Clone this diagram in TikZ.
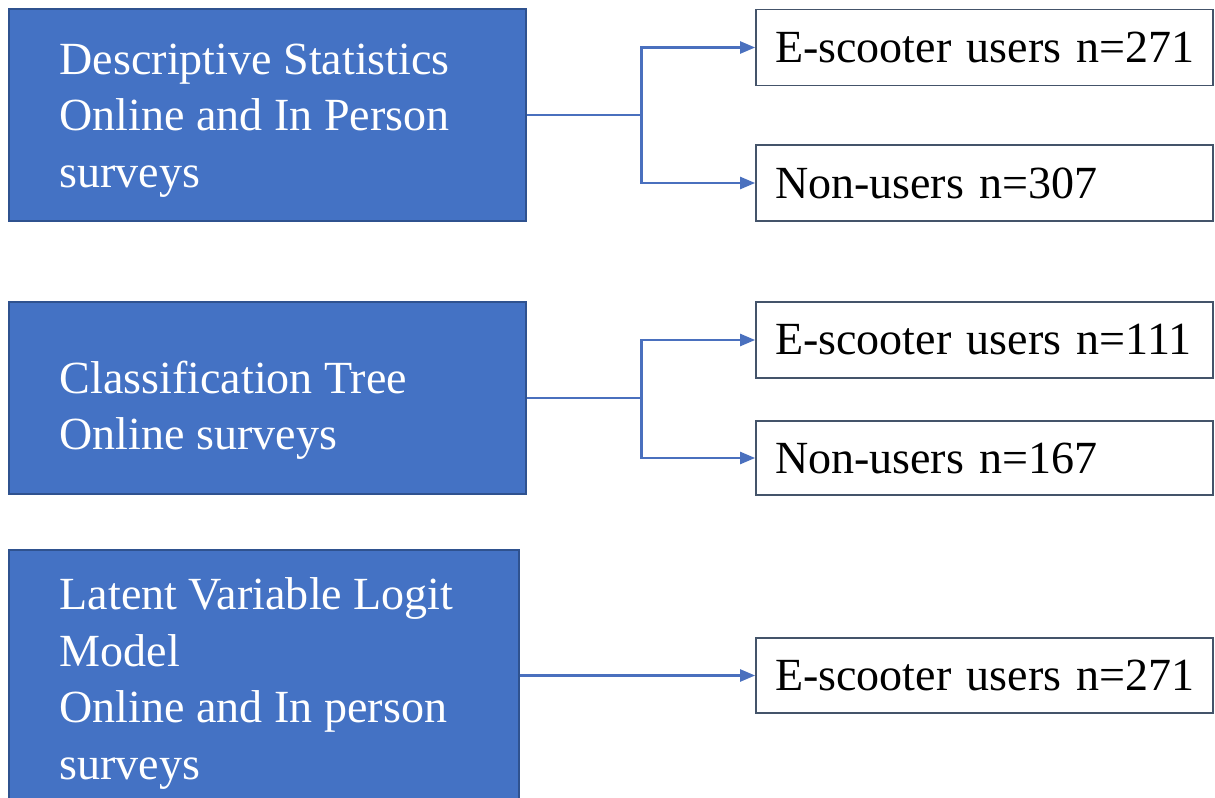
\documentclass[tikz,border=0pt]{standalone}
\usepackage{fontspec}
\setmainfont{Liberation Serif}
\usetikzlibrary{arrows.meta}

\definecolor{boxblue}{HTML}{4472C4}
\definecolor{boxedge}{HTML}{2F528F}
\definecolor{outedge}{HTML}{44546A}
\definecolor{linkblue}{HTML}{4A70BE}
\newcommand{\bigtext}{\fontsize{26.2}{32.2}\selectfont}

\tikzset{
  method/.style={draw=boxedge, line width=0.8pt, fill=boxblue, minimum width=10.34cm, inner sep=0pt},
  methodtext/.style={anchor=north west, inner sep=0pt, text=white, align=left, font=\bigtext},
  group/.style={draw=outedge, line width=1pt, fill=white, minimum width=9.14cm, minimum height=1.52cm,
    text width=8.38cm, inner xsep=0pt, inner ysep=0pt, align=left, font=\bigtext,
    execute at begin node=\hbox\bgroup, execute at end node=\egroup},
  link/.style={draw=linkblue, line width=1.4pt},
  arrowlink/.style={link, -{Triangle[length=0.3cm,width=0.24cm]}}
}

\begin{document}
\begin{tikzpicture}
    % Canvas
    \useasboundingbox (0,0) rectangle (24.3,-15.96);
    \clip (0,0) rectangle (24.3,-15.96);

    % Method boxes (left)
    \node[method, minimum height=4.24cm] (descr) at (5.35,-2.30) {};
    \node[method, minimum height=3.84cm] (ctree) at (5.35,-7.96) {};
    \node[method, minimum width=10.2cm, minimum height=5.16cm] (lvlogit) at (5.28,-13.58) {};

    % Method texts
    \node[methodtext] (descrtext) at ([shift={(1.02,-0.70)}]descr.north west)
      {Descriptive Statistics\\Online and In Person\\surveys};
    \node[methodtext] (ctreetext) at ([shift={(1.02,-1.18)}]ctree.north west)
      {Classification Tree\\Online surveys};
    \node[methodtext] (lvlogittext) at ([shift={(1.02,-0.56)}]lvlogit.north west)
      {Latent Variable Logit\\Model\\Online and In person\\surveys};

    % Sample boxes (right)
    \node[group] (descrusers) at (19.69,-0.95) {E-scooter users n=271};
    \node[group] (descrnon) at (19.69,-3.66) {Non-users n=307};
    \node[group] (ctreeusers) at (19.69,-6.80) {E-scooter users n=111};
    \node[group, minimum height=1.48cm] (ctreenon) at (19.69,-9.16) {Non-users n=167};
    \node[group, minimum height=1.50cm] (lvusers) at (19.69,-13.51) {E-scooter users n=271};

    % Branch points
    \coordinate (descrfork) at ([xshift=2.3cm]descr.east);
    \coordinate (ctreefork) at ([xshift=2.3cm]ctree.east);

    % Connectors
    \draw[link] (descr.east) -- (descrfork);
    \draw[arrowlink] (descrfork) |- (descrusers.west);
    \draw[arrowlink] (descrfork) |- (descrnon.west);

    \draw[link] (ctree.east) -- (ctreefork);
    \draw[arrowlink] (ctreefork) |- (ctreeusers.west);
    \draw[arrowlink] (ctreefork) |- (ctreenon.west);

    \draw[arrowlink] (lvlogit.east |- lvusers.west) -- (lvusers.west);
\end{tikzpicture}
\end{document}
